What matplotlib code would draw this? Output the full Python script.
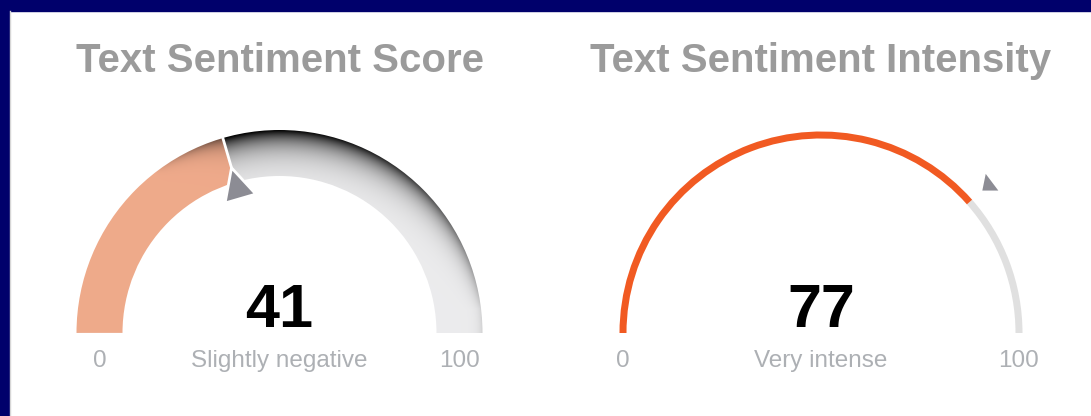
import numpy as np
import matplotlib
matplotlib.use("Agg")
import matplotlib.pyplot as plt
from matplotlib.patches import Wedge, Polygon, Rectangle

plt.rcParams['font.family'] = ['Liberation Sans', 'DejaVu Sans']

# gauge data
titles = ["Text Sentiment Score", "Text Sentiment Intensity"]
scores = [41, 77]
verdicts = ["Slightly negative", "Very intense"]
scale_min = [0, 0]
scale_max = [100, 100]

W, H = 1091, 416
fig = plt.figure(figsize=(W / 100, H / 100), dpi=100)
ax = fig.add_axes([0, 0, 1, 1])
ax.set_xlim(0, W)
ax.set_ylim(0, H)
ax.axis('off')

navy = '#00006b'
label_col = '#adb0b4'
title_col = '#9b9b9b'
tri_col = '#8c8c94'

# frame
ax.add_patch(Rectangle((0, 0), W, H, color='white', zorder=0))
ax.add_patch(Rectangle((0, H - 11), W, 11, color=navy, zorder=1))
ax.add_patch(Rectangle((0, 0), 9, H, color=navy, zorder=1))
ax.plot([9.5, 9.5], [0, H - 11], color='#d6d6d6', lw=1, zorder=1)


def val2deg(v, lo, hi):
    return 180.0 - 180.0 * (v - lo) / (hi - lo)


def polar(cx, cy, r, deg):
    a = np.radians(deg)
    return cx + r * np.cos(a), cy + r * np.sin(a)


cy = 83

# ---- gauge 1: thick shaded band ----
cx1, R1, T1 = 279.5, 203.0, 46.0
th1 = val2deg(scores[0], scale_min[0], scale_max[0])

x0, x1, y0, y1 = cx1 - R1 - 2, cx1 + R1 + 2, cy - 1, cy + R1 + 2
xs = np.linspace(x0, x1, int((x1 - x0) * 2))
ys = np.linspace(y0, y1, int((y1 - y0) * 2))
X, Y = np.meshgrid(xs, ys)
r = np.hypot(X - cx1, Y - cy)
th = np.degrees(np.arctan2(Y - cy, X - cx1))
th = np.clip(th, 0, 180)

salmon = np.array([0.937, 0.667, 0.545])
grey = np.array([0.925, 0.925, 0.93])
base = np.where((th >= th1)[..., None], salmon, grey)

# darker rim towards the top, fading along the band
a_grey = 0.12 + 0.88 * np.clip(np.cos(np.radians(th - 97)), 0, 1) ** 0.8
a_salm = 0.55 * np.clip(1 - (th - th1) / 22.0, 0, 1)
a = np.where(th >= th1, a_salm, a_grey)
w = T1 * (0.06 + 0.26 * a)
d = a * np.exp(-np.clip(R1 - r, 0, None) / w)
img = np.clip(base * (1 - d[..., None]), 0, 1)

im = ax.imshow(img, extent=(x0, x1, y0, y1), origin='lower', zorder=2,
               interpolation='bilinear')
clip = Wedge((cx1, cy), R1, 0, 180, width=T1, transform=ax.transData)
im.set_clip_path(clip)

# separator at value
px0, py0 = polar(cx1, cy, R1 - T1, th1)
px1, py1 = polar(cx1, cy, R1, th1)
ax.plot([px0, px1], [py0, py1], color='white', lw=2, zorder=3)

# pointer triangle
u = np.array([np.cos(np.radians(th1)), np.sin(np.radians(th1))])
t = np.array([-u[1], u[0]])
c = np.array([cx1, cy])
tri = [c + 172 * u, c + 140 * u + 16 * t, c + 140 * u - 16 * t]
ax.add_patch(Polygon(tri, closed=True, facecolor=tri_col, edgecolor='white',
                     lw=2, joinstyle='miter', zorder=4))

# ---- gauge 2: thin arc ----
cx2, R2, T2 = 821.0, 201.5, 7.0
th2 = val2deg(scores[1], scale_min[1], scale_max[1])
ax.add_patch(Wedge((cx2, cy), R2, 0, th2, width=T2, color='#e0e0e0', lw=0, zorder=2))
ax.add_patch(Wedge((cx2, cy), R2, th2, 180, width=T2, color='#f15a22', lw=0, zorder=2))
ax2x, ax2y = polar(cx2, cy, 224, th2)
tri2 = [(ax2x - 3.3, ax2y + 11), (ax2x - 6.7, ax2y - 5.7), (ax2x + 9.3, ax2y - 5.7)]
ax.add_patch(Polygon(tri2, closed=True, facecolor=tri_col, edgecolor='none', zorder=4))

# ---- texts ----
centers = [cx1, cx2]
ends = [(cx1 - R1 + T1 / 2, cx1 + R1 - T1 / 2), (cx2 - R2 + T2 / 2, cx2 + R2 - T2 / 2)]
for i in range(2):
    ax.text(centers[i], H - 61, titles[i], ha='center', va='center',
            fontsize=28.9, fontweight='bold', color=title_col, zorder=5)
    ax.text(centers[i], H - 327, str(scores[i]), ha='center', va='baseline',
            fontsize=44, fontweight='bold', color='black', zorder=5)
    ax.text(centers[i], H - 367, verdicts[i], ha='center', va='baseline',
            fontsize=17.5, color=label_col, zorder=5)
    ax.text(ends[i][0], H - 367, str(scale_min[i]), ha='center', va='baseline',
            fontsize=17.5, color=label_col, zorder=5)
    ax.text(ends[i][1], H - 367, str(scale_max[i]), ha='center', va='baseline',
            fontsize=17.5, color=label_col, zorder=5)

fig.savefig('out.png', dpi=100)
